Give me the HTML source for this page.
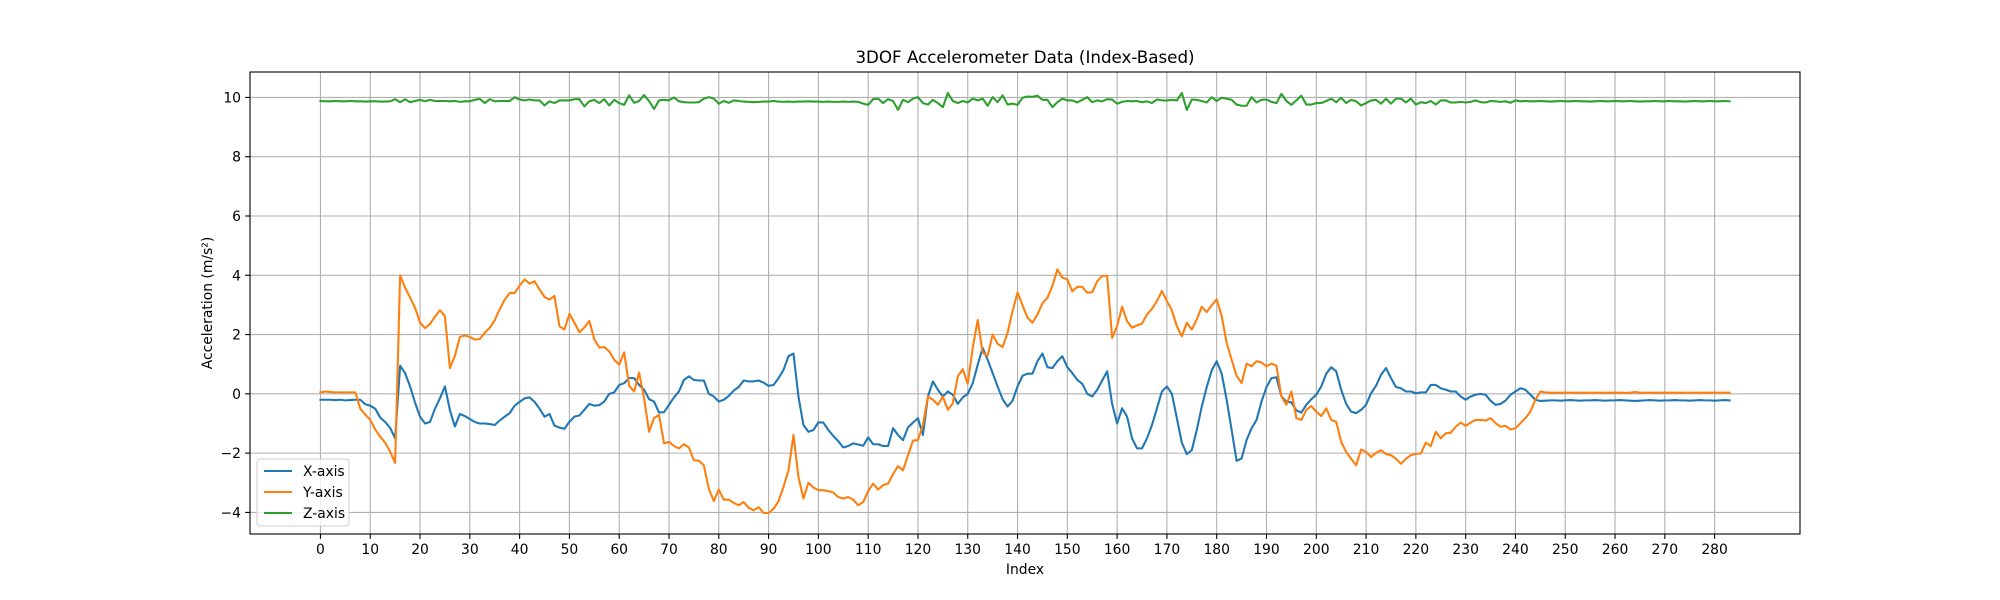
<!DOCTYPE html>
<html><head><meta charset="utf-8"><style>
html,body{margin:0;padding:0;background:#fff;}
svg{display:block;font-family:"DejaVu Sans","Liberation Sans",sans-serif;}
</style></head><body>
<svg id="chart" width="2000" height="600" viewBox="0 0 2000 600">
<rect x="0" y="0" width="2000" height="600" fill="#fff"/>
<text x="1025" y="63" text-anchor="middle" font-size="16.7" fill="#000">3DOF Accelerometer Data (Index-Based)</text>
<g id="grid"></g>
<g id="series"></g>
<rect x="250" y="72" width="1550" height="462" fill="none" stroke="#000" stroke-width="1.1"/>
<g id="xticks"></g>
<g id="yticks"></g>
<text x="1025" y="574" text-anchor="middle" font-size="13.9">Index</text>
<text x="0" y="0" transform="translate(212,303) rotate(-90)" text-anchor="middle" font-size="13.9">Acceleration (m/s²)</text>
<g>
<rect x="257" y="459" width="92" height="67" rx="3" fill="#fff" fill-opacity="0.8" stroke="#ccc" stroke-width="1"/>
<g><line x1="264" y1="471" x2="292" y2="471" stroke="#1f77b4" stroke-width="2.1"/><text x="303" y="476" font-size="13.9">X-axis</text></g>
<g><line x1="264" y1="492" x2="292" y2="492" stroke="#ff7f0e" stroke-width="2.1"/><text x="303" y="497" font-size="13.9">Y-axis</text></g>
<g><line x1="264" y1="513" x2="292" y2="513" stroke="#2ca02c" stroke-width="2.1"/><text x="303" y="518" font-size="13.9">Z-axis</text></g>
</g>
</svg>
<script>
const xTicks=[0,10,20,30,40,50,60,70,80,90,100,110,120,130,140,150,160,170,180,190,200,210,220,230,240,250,260,270,280];
const yTicks=[-4,-2,0,2,4,6,8,10];
const seriesX=[-0.2,-0.2,-0.2,-0.21,-0.2,-0.22,-0.21,-0.2,-0.2,-0.35,-0.4,-0.5,-0.8,-0.95,-1.15,-1.5,
0.95,0.7,0.25,-0.3,-0.77,-1.0,-0.95,-0.5,-0.15,0.25,-0.55,-1.1,-0.68,-0.75,-0.85,-0.95,-1.0,-1.0,-1.02,-1.05,
-0.9,-0.77,-0.65,-0.4,-0.27,-0.15,-0.12,-0.27,-0.5,-0.77,-0.68,-1.07,-1.14,-1.18,-0.94,-0.77,-0.73,
-0.54,-0.34,-0.4,-0.38,-0.26,0,0.05,0.3,0.36,0.53,0.53,0.3,0.14,-0.18,-0.26,-0.63,-0.62,-0.37,-0.12,0.08,
0.47,0.59,0.47,0.45,0.45,0,-0.09,-0.26,-0.2,-0.07,0.11,0.23,0.45,0.42,0.42,0.45,0.38,0.27,0.3,0.53,
0.81,1.27,1.36,-0.09,-1.05,-1.28,-1.22,-0.96,-0.97,-1.22,-1.42,
-1.6,-1.81,-1.76,-1.67,-1.71,-1.75,-1.47,-1.7,-1.7,-1.76,-1.76,-1.16,-1.39,-1.56,-1.13,-0.97,-0.82,-1.39,-0.09,0.42,
0.14,-0.09,0.08,-0.03,-0.34,-0.12,0,0.36,0.98,1.55,1.15,0.7,0.25,-0.18,-0.43,-0.23,0.25,0.61,0.68,0.68,
1.1,1.36,0.9,0.87,1.1,1.27,0.9,0.7,0.47,0.34,0,-0.09,0.14,0.45,0.76,-0.34,-1.0,-0.49,-0.77,-1.5,
-1.84,-1.84,-1.5,-1.05,-0.49,0.08,0.25,0,-0.82,-1.65,-2.03,-1.9,-1.22,-0.43,0.23,0.79,1.1,0.68,-0.2,-1.22,
-2.26,-2.18,-1.56,-1.16,-0.88,-0.26,0.23,0.53,0.56,-0.09,-0.26,-0.29,-0.56,-0.63,-0.37,-0.18,-0.03,0.25,0.68,0.9,
0.76,0.14,-0.34,-0.6,-0.65,-0.54,-0.37,0.02,0.27,0.64,0.87,0.53,0.23,0.19,0.08,0.08,0.02,0.05,0.05,0.3,
0.3,0.19,0.14,0.08,0.08,-0.09,-0.2,-0.09,-0.03,0,-0.03,-0.23,-0.37,-0.34,-0.23,-0.03,0.08,0.19,0.14,-0.03,-0.2,-0.24,
-0.23,-0.22,-0.22,-0.23,-0.22,-0.21,-0.22,-0.23,-0.22,-0.22,-0.21,-0.22,-0.23,-0.22,-0.22,-0.21,-0.22,-0.23,-0.24,-0.23,
-0.22,-0.21,-0.22,-0.23,-0.22,-0.22,-0.21,-0.22,-0.22,-0.23,-0.22,-0.21,-0.22,-0.22,-0.23,-0.22,-0.21,-0.22];
const seriesY=[0.05,0.08,0.06,0.05,0.05,0.05,0.05,0.05,-0.5,-0.7,-0.88,-1.2,-1.45,-1.65,-1.95,-2.33,
4.0,3.58,3.25,2.9,2.4,2.22,2.36,2.6,2.82,2.62,0.87,1.28,1.92,1.97,1.92,1.83,1.85,2.06,2.23,2.48,
2.85,3.18,3.4,3.4,3.65,3.86,3.72,3.8,3.52,3.27,3.18,3.3,2.28,2.17,2.7,2.4,2.08,
2.24,2.46,1.84,1.56,1.58,1.43,1.15,0.98,1.4,0.27,0.08,0.72,-0.15,-1.28,-0.82,-0.71,-1.67,-1.62,-1.76,-1.84,
-1.7,-1.81,-2.24,-2.26,-2.41,-3.2,-3.62,-3.23,-3.57,-3.57,-3.68,-3.76,-3.65,-3.84,-3.93,-3.82,-4.02,-4.02,-3.88,-3.62,
-3.14,-2.58,-1.39,-2.8,-3.53,-3.0,-3.16,-3.25,-3.25,-3.28,-3.33,
-3.48,-3.53,-3.48,-3.57,-3.76,-3.65,-3.28,-3.03,-3.23,-3.08,-3.03,-2.71,-2.44,-2.58,-2.07,-1.58,-1.56,-1.05,-0.09,-0.2,
-0.37,-0.09,-0.54,-0.32,0.59,0.83,0.34,1.55,2.49,1.38,1.29,2.0,1.69,1.58,2.06,2.79,3.42,2.99,2.57,2.4,
2.68,3.05,3.24,3.64,4.2,3.92,3.86,3.46,3.61,3.61,3.41,3.43,3.8,3.98,3.98,1.89,2.28,2.94,2.45,2.23,
2.31,2.37,2.68,2.87,3.13,3.47,3.13,2.82,2.28,1.94,2.4,2.17,2.51,2.94,2.76,2.99,3.19,2.62,1.72,1.15,
0.61,0.36,1.02,0.93,1.1,1.06,0.93,1.02,0.95,-0.09,-0.37,0.08,-0.82,-0.88,-0.54,-0.41,-0.6,-0.75,-0.49,-0.88,
-0.94,-1.62,-1.96,-2.19,-2.41,-1.88,-1.96,-2.13,-1.99,-1.9,-2.03,-2.07,-2.19,-2.36,-2.19,-2.07,-2.03,-2.01,-1.65,-1.76,
-1.28,-1.5,-1.33,-1.31,-1.11,-0.97,-1.08,-0.97,-0.88,-0.88,-0.9,-0.82,-0.99,-1.11,-1.08,-1.2,-1.16,-0.99,-0.82,-0.6,-0.2,0.08,
0.05,0.04,0.04,0.04,0.04,0.04,0.04,0.04,0.04,0.04,0.04,0.04,0.04,0.04,0.04,0.04,0.03,0.04,0.06,0.04,
0.04,0.04,0.04,0.04,0.04,0.04,0.04,0.04,0.04,0.04,0.04,0.04,0.04,0.04,0.04,0.04,0.04,0.04];
const seriesZ=[9.88,9.87,9.87,9.88,9.87,9.87,9.88,9.87,9.87,9.86,9.87,9.87,9.86,9.86,9.87,
9.94,9.84,9.94,9.84,9.88,9.92,9.87,9.92,9.88,9.88,9.88,9.87,9.88,9.85,9.87,9.87,
9.92,9.95,9.81,9.94,9.87,9.88,9.88,9.88,10.01,9.93,9.90,9.93,9.90,9.90,
9.73,9.87,9.81,9.90,9.90,9.90,9.94,9.94,9.70,9.87,9.92,9.81,9.94,9.73,9.92,9.81,9.75,
10.07,9.82,9.88,10.08,9.88,9.61,9.90,9.92,9.90,10.0,9.87,9.84,9.83,9.83,9.84,
9.96,10.01,9.96,9.79,9.88,9.82,9.90,9.88,9.86,9.85,9.84,9.85,9.86,9.86,9.88,9.86,9.85,9.86,9.85,9.86,9.86,9.87,9.86,
9.86,9.85,9.86,9.85,9.85,9.86,9.85,9.86,9.85,9.79,9.75,9.94,9.96,9.81,9.94,9.88,9.58,9.92,9.84,9.96,10.01,9.81,9.76,9.92,9.81,9.67,
10.15,9.88,9.81,9.88,9.83,9.96,9.90,9.96,9.72,10.01,9.84,10.07,9.76,9.79,9.75,
9.99,10.03,10.02,10.06,9.92,9.92,9.67,9.84,9.96,9.90,9.90,9.83,9.92,10.01,9.84,9.90,9.87,9.94,9.93,9.79,
9.85,9.88,9.87,9.88,9.84,9.87,9.81,9.93,9.90,9.90,9.92,9.90,10.15,9.58,9.93,9.92,9.88,9.83,10.01,9.88,
9.99,9.96,9.92,9.76,9.72,9.72,10.01,9.83,9.92,9.93,9.85,9.81,10.12,9.88,9.75,9.90,10.06,9.76,9.76,9.81,
9.81,9.88,9.96,9.84,9.99,9.81,9.92,9.87,9.73,9.81,9.90,9.92,9.79,9.96,9.79,9.96,9.96,9.83,9.96,9.76,
9.84,9.81,9.88,9.76,9.90,9.90,9.83,9.83,9.85,9.83,9.85,9.90,9.84,9.83,9.88,9.87,9.85,9.87,9.82,9.90,
9.87,9.88,9.87,9.87,9.88,9.87,9.86,9.87,9.88,9.87,9.87,9.88,9.87,9.87,9.86,9.87,9.88,9.87,9.87,9.88,
9.87,9.87,9.88,9.87,9.86,9.87,9.87,9.88,9.87,9.87,9.88,9.87,9.87,9.86,9.87,9.88,9.87,9.87,9.88,9.87,9.87,9.88,9.87];
const NS='http://www.w3.org/2000/svg';
const L=250,R=1800,T=72,B=534;
const n=Math.max(seriesX.length,seriesY.length,seriesZ.length);
const xmin=-(n-1)*0.05, xmax=(n-1)*1.05;
const all=seriesX.concat(seriesY,seriesZ);
const dmin=Math.min(...all), dmax=Math.max(...all), pad=(dmax-dmin)*0.05;
const ymin=dmin-pad, ymax=dmax+pad;
function sx(i){return L+(i-xmin)/(xmax-xmin)*(R-L);}
function sy(v){return B-(v-ymin)/(ymax-ymin)*(B-T);}
const grid=document.getElementById('grid'),xt=document.getElementById('xticks'),yt=document.getElementById('yticks');
function mk(tag,attrs,parent){const e=document.createElementNS(NS,tag);for(const k in attrs)e.setAttribute(k,attrs[k]);parent.appendChild(e);return e;}
xTicks.forEach(t=>{
  const x=sx(t);
  const g=mk('line',{x1:x,x2:x,y1:T,y2:B,stroke:'#b0b0b0','stroke-width':1.1},grid);
  
  
  const tk=mk('line',{x1:x,x2:x,y1:B,y2:B+4.9,stroke:'#000','stroke-width':1.1},xt);
  
  
  const lb=mk('text',{x:x,y:B+20,'text-anchor':'middle','font-size':13.9},xt);
  lb.textContent=t;
  
  
});
yTicks.forEach(t=>{
  const y=sy(t);
  const g=mk('line',{x1:L,x2:R,y1:y,y2:y,stroke:'#b0b0b0','stroke-width':1.1},grid);
  
  
  const tk=mk('line',{x1:L-4.9,x2:L,y1:y,y2:y,stroke:'#000','stroke-width':1.1},yt);
  
  
  const lb=mk('text',{x:L-9,y:y+5,'text-anchor':'end','font-size':13.9},yt);
  lb.textContent=t<0?'\u2212'+Math.abs(t):String(t);
  
  
});
const sg=document.getElementById('series');
[[seriesX,'#1f77b4','x-axis-line'],[seriesY,'#ff7f0e','y-axis-line'],[seriesZ,'#2ca02c','z-axis-line']].forEach(([arr,c,name])=>{
  const d=arr.map((v,i)=>(i?'L':'M')+sx(i).toFixed(2)+','+sy(v).toFixed(2)).join('');
  const p=mk('path',{d:d,fill:'none',stroke:c,'stroke-width':2.08,'stroke-linejoin':'round','stroke-linecap':'square'},sg);
  
  
});
</script>
</body></html>
